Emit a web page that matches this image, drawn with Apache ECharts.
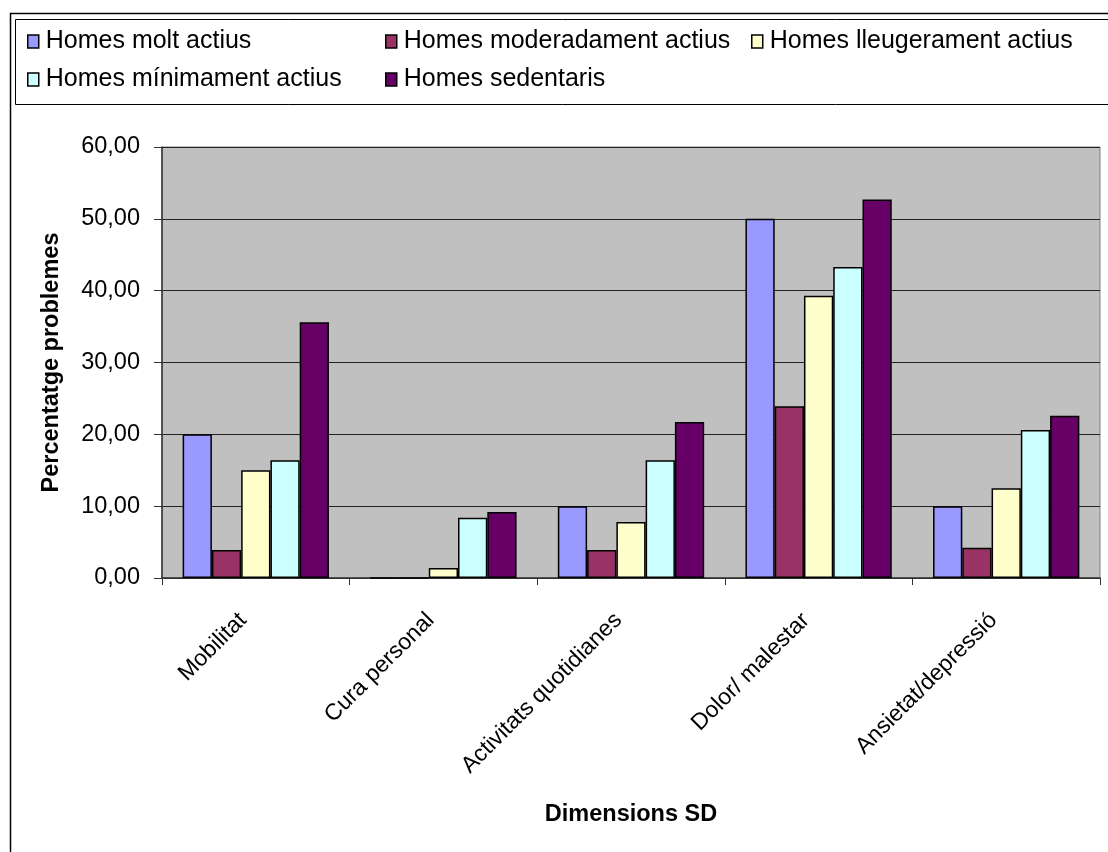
<!DOCTYPE html>
<html>
<head>
<meta charset="utf-8">
<script src="https://cdn.jsdelivr.net/npm/echarts@6/dist/echarts.min.js"></script>
<style>
  html, body { margin: 0; padding: 0; background: #fff; }
  #chart { width: 1108px; height: 852px; }
</style>
</head>
<body>
<div id="chart"></div>
<script>
// Health dimensions (EQ-5D style) by physical activity level, men
const categories = ['Mobilitat', 'Cura personal', 'Activitats quotidianes', 'Dolor/ malestar', 'Ansietat/depressió'];
const seriesNames = ['Homes molt actius', 'Homes moderadament actius', 'Homes lleugerament actius', 'Homes mínimament actius', 'Homes sedentaris'];
const moltActius = [20.0, 0, 10.0, 50.0, 10.0];
const moderadamentActius = [3.9, 0, 3.9, 23.9, 4.2];
const lleugeramentActius = [15.0, 1.4, 7.8, 39.3, 12.5];
const minimamentActius = [16.4, 8.4, 16.4, 43.3, 20.6];
const sedentaris = [35.6, 9.2, 21.7, 52.7, 22.6];
const yTicks = { min: 0, max: 60, interval: 10 };

const colors = ['#9999FF', '#993366', '#FFFFCC', '#CCFFFF', '#660066'];
const values = [moltActius, moderadamentActius, lleugeramentActius, minimamentActius, sedentaris];
const FONT = 'Liberation Sans, Arial, sans-serif';

const chart = echarts.init(document.getElementById('chart'), null, { renderer: 'canvas' });

const legendBase = {
  orient: 'vertical',
  top: 29,
  padding: 0,
  itemWidth: 11,
  itemHeight: 13,
  itemGap: 13,
  icon: 'rect',
  selectedMode: false,
  itemStyle: { borderColor: '#000', borderWidth: 1.5 },
  textStyle: { fontFamily: FONT, fontSize: 25, color: '#000', padding: [0, 0, 0, 2] }
};

chart.setOption({
  animation: false,
  color: colors,
  graphic: [
    { type: 'rect', shape: { x: 10.5, y: 13.5, width: 1110, height: 850 }, style: { fill: 'none', stroke: '#000', lineWidth: 1.5 }, z: -10 },
    { type: 'rect', shape: { x: 15.5, y: 19.5, width: 1110, height: 85 }, style: { fill: 'none', stroke: '#000', lineWidth: 1 }, z: -10 }
  ],
  legend: [
    Object.assign({}, legendBase, { left: 27, data: [seriesNames[0], seriesNames[3]] }),
    Object.assign({}, legendBase, { left: 385, data: [seriesNames[1], seriesNames[4]] }),
    Object.assign({}, legendBase, { left: 751, data: [seriesNames[2]] })
  ],
  grid: {
    left: 162, right: 8, top: 147, bottom: 274,
    show: true, backgroundColor: '#C0C0C0', borderColor: '#808080', borderWidth: 1
  },
  xAxis: {
    type: 'category',
    data: categories,
    name: 'Dimensions SD',
    nameLocation: 'middle',
    nameGap: 225,
    nameTextStyle: { fontFamily: FONT, fontSize: 23.5, fontWeight: 'bold', color: '#000' },
    axisLine: { lineStyle: { color: '#333', width: 1.5 } },
    axisTick: { show: true, length: 7, lineStyle: { color: '#333', width: 1 } },
    axisLabel: { rotate: 45, margin: 26, padding: [0, 18, 0, 0], fontFamily: FONT, fontSize: 23, color: '#000' }
  },
  yAxis: {
    type: 'value',
    min: yTicks.min, max: yTicks.max, interval: yTicks.interval,
    name: 'Percentatge problemes',
    nameLocation: 'middle',
    nameRotate: 90,
    nameGap: 98,
    nameTextStyle: { fontFamily: FONT, fontSize: 23.5, fontWeight: 'bold', color: '#000' },
    axisLine: { show: true, lineStyle: { color: '#333', width: 1.5 } },
    axisTick: { show: true, length: 8, lineStyle: { color: '#333', width: 1 } },
    splitLine: { lineStyle: { color: '#222', width: 1 } },
    axisLabel: {
      margin: 22, fontFamily: FONT, fontSize: 23.5, color: '#000',
      formatter: v => v.toFixed(2).replace('.', ',')
    }
  },
  series: values.map((arr, i) => ({
    name: seriesNames[i],
    type: 'bar',
    data: arr,
    barGap: '0%',
    barCategoryGap: '22%',
    itemStyle: { color: colors[i], borderColor: '#000', borderWidth: 1.5 }
  }))
});
</script>
</body>
</html>
